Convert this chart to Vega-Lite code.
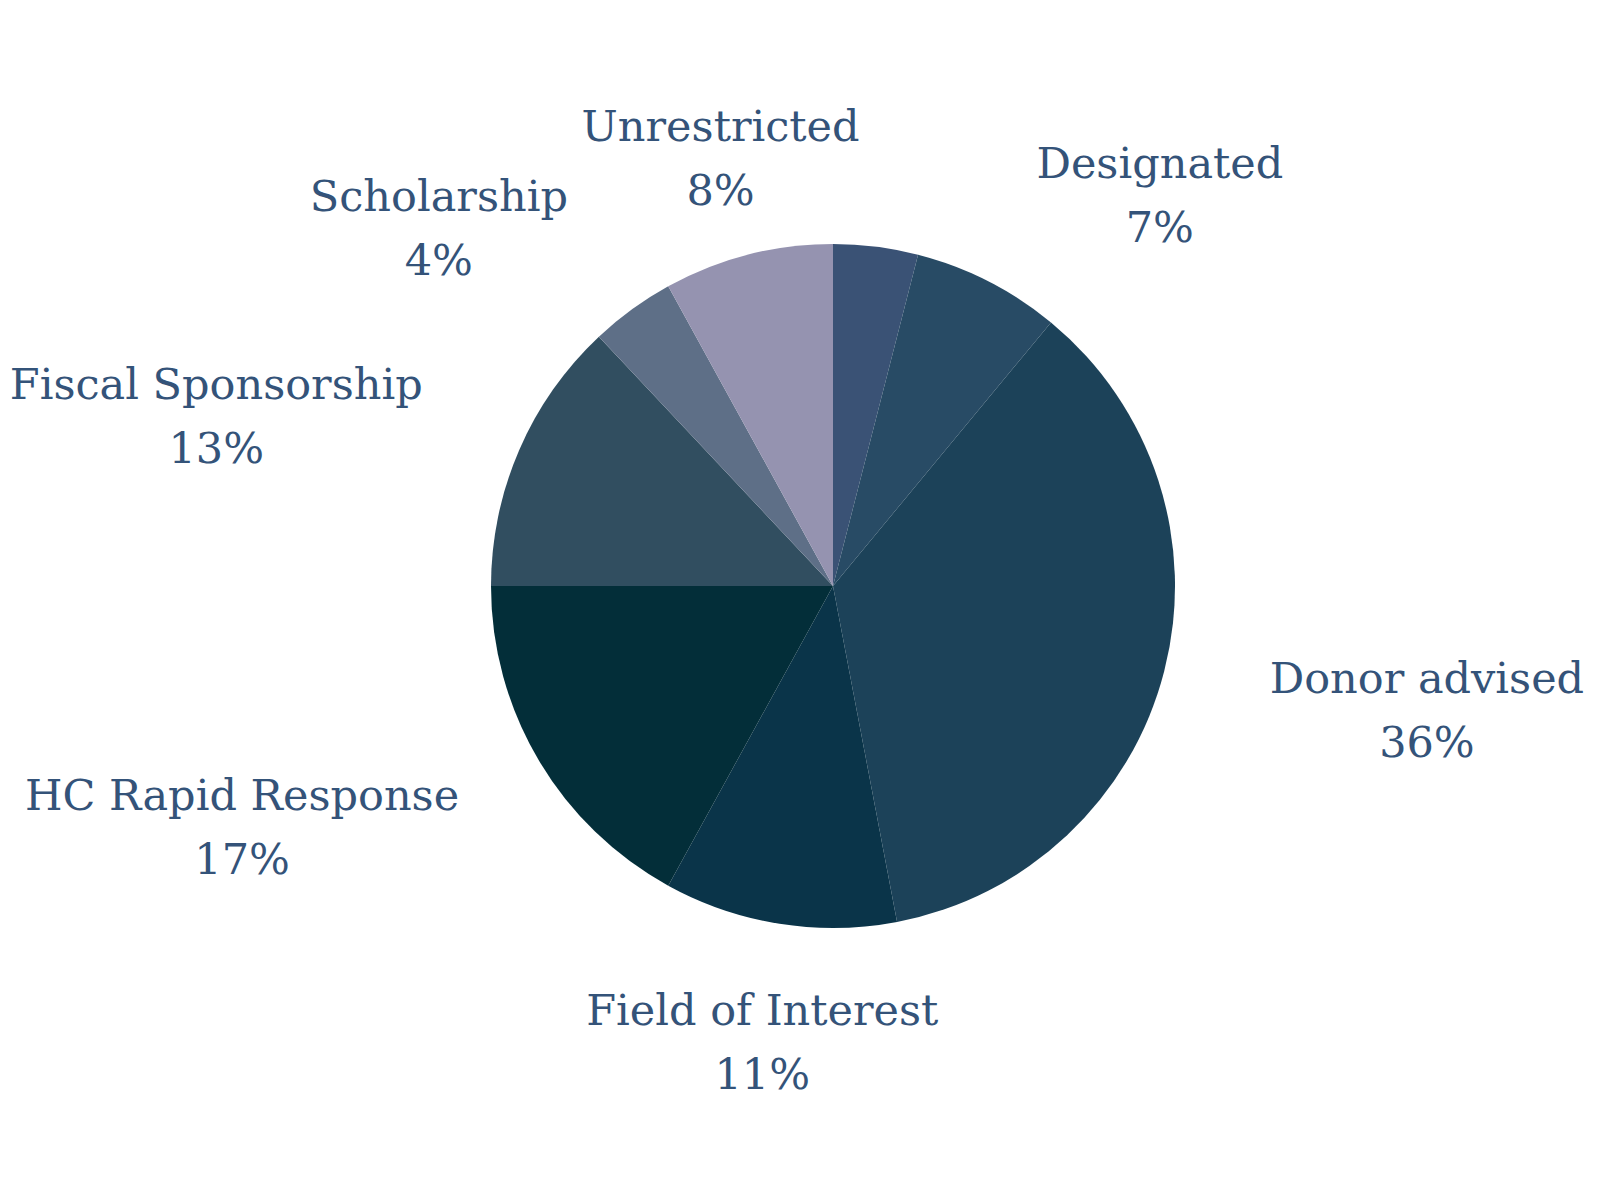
{
  "$schema": "https://vega.github.io/schema/vega-lite/v6.json",
  "width": 1534,
  "height": 1172,
  "autosize": "none",
  "padding": {"left": 66, "top": 0, "right": 0, "bottom": 28},
  "background": "white",
  "view": {"stroke": null},
  "data": {
    "values": [
      {"idx": 1, "category": "Other", "pct": 4},
      {"idx": 2, "category": "Designated", "pct": 7},
      {"idx": 3, "category": "Donor advised", "pct": 36},
      {"idx": 4, "category": "Field of Interest", "pct": 11},
      {"idx": 5, "category": "HC Rapid Response", "pct": 17},
      {"idx": 6, "category": "Fiscal Sponsorship", "pct": 13},
      {"idx": 7, "category": "Scholarship", "pct": 4},
      {"idx": 8, "category": "Unrestricted", "pct": 8}
    ]
  },
  "transform": [
    {"calculate": "datum.category + '\\n' + datum.pct + '%'", "as": "label"}
  ],
  "encoding": {
    "theta": {"field": "pct", "type": "quantitative", "stack": true},
    "order": {"field": "idx", "type": "quantitative"}
  },
  "layer": [
    {
      "mark": {"type": "arc", "outerRadius": 342},
      "encoding": {
        "color": {
          "field": "category",
          "type": "nominal",
          "legend": null,
          "scale": {
            "domain": ["Other", "Designated", "Donor advised", "Field of Interest", "HC Rapid Response", "Fiscal Sponsorship", "Scholarship", "Unrestricted"],
            "range": ["#3a5275", "#284b65", "#1c4259", "#0a3449", "#032e39", "#314e60", "#5e6f87", "#9593b0"]
          }
        }
      }
    },
    {
      "mark": {"type": "text", "radius": 452, "dy": -20, "font": "DejaVu Serif", "fontSize": 43, "lineHeight": 64, "lineBreak": "\n", "fill": "#345379", "baseline": "middle", "align": "center"},
      "encoding": {
        "text": {"field": "label", "type": "nominal"},
        "opacity": {
          "condition": {"test": "datum.category == 'Unrestricted' || datum.category == 'Field of Interest'", "value": 1},
          "value": 0
        }
      }
    },
    {
      "mark": {"type": "text", "radius": 460, "dx": 118, "dy": -11, "font": "DejaVu Serif", "fontSize": 43, "lineHeight": 64, "lineBreak": "\n", "fill": "#345379", "baseline": "middle", "align": "center"},
      "encoding": {
        "text": {"field": "label", "type": "nominal"},
        "opacity": {
          "condition": {"test": "datum.category == 'Designated'", "value": 1},
          "value": 0
        }
      }
    },
    {
      "mark": {"type": "text", "radius": 480, "dx": 129, "dy": -25, "font": "DejaVu Serif", "fontSize": 43, "lineHeight": 64, "lineBreak": "\n", "fill": "#345379", "baseline": "middle", "align": "center"},
      "encoding": {
        "text": {"field": "label", "type": "nominal"},
        "opacity": {
          "condition": {"test": "datum.category == 'Donor advised'", "value": 1},
          "value": 0
        }
      }
    },
    {
      "mark": {"type": "text", "radius": 453, "dx": -201, "dy": -20, "font": "DejaVu Serif", "fontSize": 43, "lineHeight": 64, "lineBreak": "\n", "fill": "#345379", "baseline": "middle", "align": "center"},
      "encoding": {
        "text": {"field": "label", "type": "nominal"},
        "opacity": {
          "condition": {"test": "datum.category == 'HC Rapid Response' || datum.category == 'Fiscal Sponsorship'", "value": 1},
          "value": 0
        }
      }
    },
    {
      "mark": {"type": "text", "radius": 480, "dx": -112, "dy": 0, "font": "DejaVu Serif", "fontSize": 43, "lineHeight": 64, "lineBreak": "\n", "fill": "#345379", "baseline": "middle", "align": "center"},
      "encoding": {
        "text": {"field": "label", "type": "nominal"},
        "opacity": {
          "condition": {"test": "datum.category == 'Scholarship'", "value": 1},
          "value": 0
        }
      }
    }
  ]
}
